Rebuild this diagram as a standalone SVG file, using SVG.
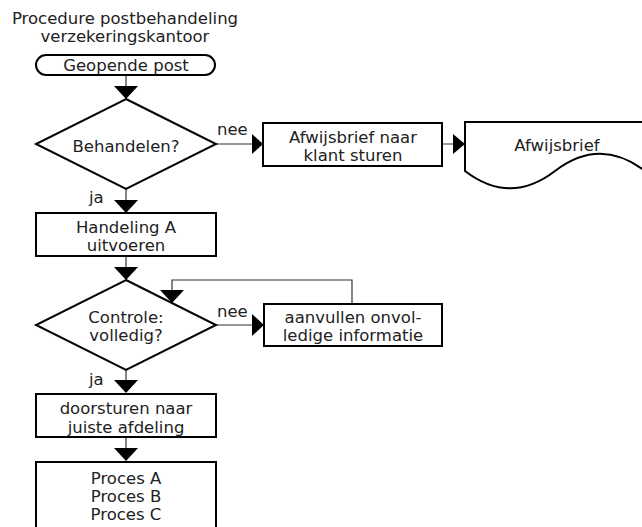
<svg xmlns="http://www.w3.org/2000/svg" width="642" height="527" viewBox="0 0 642 527">
<style>
text{font-family:"DejaVu Sans","Liberation Sans",sans-serif;font-size:16.5px;fill:#222;text-anchor:middle}
.l{text-anchor:start}
.s{fill:#fff;stroke:#000;stroke-width:2}
.c{fill:none;stroke:#333;stroke-width:1.2}
.h{fill:#000;stroke:none}
</style>
<rect width="642" height="527" fill="#fff"/>
<g id="title">
<text x="125" y="24">Procedure postbehandeling</text>
<text x="125" y="41.5">verzekeringskantoor</text>
</g>
<g id="connectors">
<path class="c" d="M126,75V87M126,189V201M126,256V268M126,370V381M126,437V449M216,144H253M442,144H454M216,325H253M352,304V280H172V291"/>
<polygon class="h" points="114,86 138,86 126,99"/>
<polygon class="h" points="114,200 138,200 126,213"/>
<polygon class="h" points="114,267 138,267 126,280"/>
<polygon class="h" points="114,380 138,380 126,393"/>
<polygon class="h" points="114,448 138,448 126,461"/>
<polygon class="h" points="252,134 252,154 263,144"/>
<polygon class="h" points="453,134 453,154 465,144"/>
<polygon class="h" points="252,314 252,336 264,325"/>
<polygon class="h" points="160,290 184,290 172,303"/>
<text class="l" x="217" y="135">nee</text>
<text class="l" x="89" y="203">ja</text>
<text class="l" x="217" y="317">nee</text>
<text class="l" x="89" y="385">ja</text>
</g>
<g id="start">
<rect class="s" x="36" y="55" width="179" height="20" rx="10"/>
<text x="126" y="71">Geopende post</text>
</g>
<g id="behandelen">
<polygon class="s" points="126,99 216,144 126,189 36,144"/>
<text x="126" y="152">Behandelen?</text>
</g>
<g id="afwijsbrief-sturen">
<rect class="s" x="263" y="123" width="179" height="43"/>
<text x="353" y="143">Afwijsbrief naar</text>
<text x="353" y="161">klant sturen</text>
</g>
<g id="afwijsbrief">
<path class="s" d="M465,122H645V171C615,148 585,148 555,171C525,194 495,194 465,171Z"/>
<text x="557" y="151">Afwijsbrief</text>
</g>
<g id="handeling-a">
<rect class="s" x="36" y="213" width="180" height="43"/>
<text x="126" y="233">Handeling A</text>
<text x="126" y="251">uitvoeren</text>
</g>
<g id="controle">
<polygon class="s" points="126,280 216,325 126,370 36,325"/>
<text x="126" y="323">Controle:</text>
<text x="126" y="341">volledig?</text>
</g>
<g id="aanvullen">
<rect class="s" x="264" y="304" width="178" height="42"/>
<text x="353" y="323">aanvullen onvol-</text>
<text x="353" y="341">ledige informatie</text>
</g>
<g id="doorsturen">
<rect class="s" x="36" y="394" width="180" height="43"/>
<text x="126" y="414">doorsturen naar</text>
<text x="126" y="432.5">juiste afdeling</text>
</g>
<g id="processen">
<rect class="s" x="36" y="462" width="180" height="80"/>
<text x="126" y="484">Proces A</text>
<text x="126" y="502">Proces B</text>
<text x="126" y="520">Proces C</text>
</g>
</svg>
